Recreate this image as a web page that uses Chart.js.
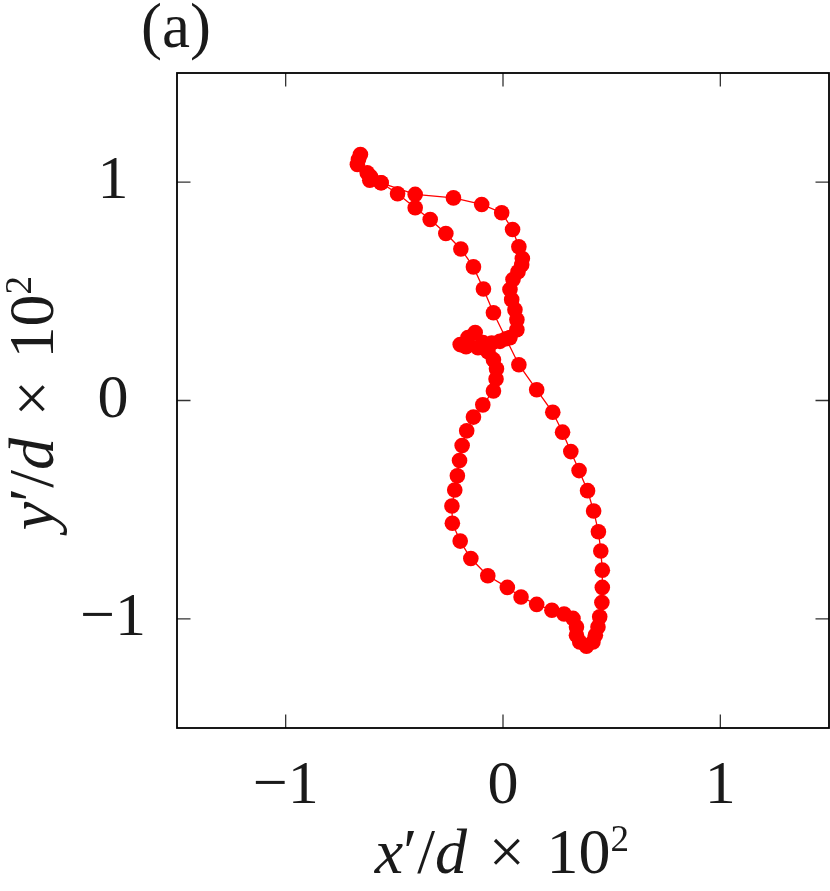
<!DOCTYPE html>
<html>
<head>
<meta charset="utf-8">
<script src="https://cdn.jsdelivr.net/npm/chart.js@4.4.1/dist/chart.umd.min.js"></script>
<style>
html, body { margin: 0; padding: 0; background: #fff; }
#wrap { width: 830px; height: 891px; }
</style>
</head>
<body>
<div id="wrap"><canvas id="grafico" width="830" height="891"></canvas></div>
<script>
// trajetória (x'/d, y'/d) x 10^2
const xVals = [-0.656, -0.670, -0.625, -0.613, -0.561, -0.404, -0.228, -0.098, -0.006, 0.044,
    0.073, 0.089, 0.086, 0.069, 0.046, 0.032, 0.040, 0.055, 0.064, 0.064,
    0.032, -0.014, -0.052, -0.092, -0.128, -0.161, -0.197, -0.170, -0.115, -0.069,
    -0.044, -0.030, -0.032, -0.044, -0.093, -0.136, -0.167, -0.188, -0.200, -0.210,
    -0.222, -0.235, -0.233, -0.197, -0.148, -0.070, 0.020, 0.083, 0.155, 0.225,
    0.281, 0.322, 0.338, 0.338, 0.353, 0.384, 0.414, 0.425, 0.437, 0.445,
    0.455, 0.457, 0.457, 0.450, 0.439, 0.417, 0.389, 0.350, 0.312, 0.274,
    0.229, 0.155, 0.073, 0.014, -0.044, -0.090, -0.136, -0.194, -0.263, -0.335,
    -0.404, -0.485, -0.561, -0.610, -0.665];
const yVals = [1.127, 1.081, 1.043, 1.009, 0.997, 0.944, 0.928, 0.898, 0.860, 0.783,
    0.704, 0.650, 0.622, 0.590, 0.554, 0.508, 0.462, 0.416, 0.370, 0.324,
    0.288, 0.271, 0.263, 0.265, 0.311, 0.288, 0.256, 0.246, 0.242, 0.223,
    0.187, 0.145, 0.098, 0.044, -0.020, -0.076, -0.139, -0.206, -0.275, -0.345,
    -0.410, -0.483, -0.562, -0.644, -0.724, -0.803, -0.856, -0.900, -0.934, -0.961,
    -0.978, -0.998, -1.037, -1.075, -1.106, -1.125, -1.106, -1.075, -1.037, -0.991,
    -0.925, -0.856, -0.777, -0.689, -0.601, -0.506, -0.413, -0.321, -0.234, -0.145,
    -0.054, 0.049, 0.164, 0.283, 0.402, 0.511, 0.612, 0.694, 0.765, 0.829,
    0.883, 0.947, 0.997, 1.026, 1.104];
const xTicks = [-1, 0, 1];
const yTicks = [-1, 0, 1];
const xRange = [-1.5, 1.5];
const yRange = [-1.5, 1.5];
const painelLabel = '(a)';

const FONTE = '"Liberation Serif", "DejaVu Serif", serif';
const TICK = 13.5;

function formatarTick(v) {
    return v < 0 ? '\u2212' + Math.abs(v) : String(v);
}

// desenha rótulo com partes em itálico / sobrescrito, centrado na origem
function desenharRotulo(ctx, partes, size) {
    const pedacos = partes.map(p => {
        const s = p.sup ? size * 0.58 : size;
        const font = (p.it ? 'italic ' : '') + s + 'px ' + FONTE;
        ctx.font = font;
        const pad = (p.pad || 0) * size;
        return { t: p.t, font, pad, w: ctx.measureText(p.t).width + 2 * pad, dy: p.sup ? -size * 0.34 : 0 };
    });
    const total = pedacos.reduce((s, p) => s + p.w, 0);
    let cx = -total / 2;
    pedacos.forEach(p => {
        ctx.font = p.font;
        ctx.fillText(p.t, cx + p.pad, p.dy);
        cx += p.w;
    });
}

function partesEixo(letra) {
    return [{ t: letra, it: true }, { t: '\u2032/' }, { t: 'd', it: true },
        { t: '\u00d7', pad: 0.34 }, { t: '10' }, { t: '2', sup: true }];
}

const molduraPlugin = {
    id: 'moldura',
    afterDraw(chart) {
        const { ctx, chartArea: a, scales: { x, y } } = chart;
        ctx.save();
        ctx.lineWidth = 1.3;
        ctx.strokeStyle = '#333';
        ctx.beginPath();
        xTicks.forEach(v => {
            const px = x.getPixelForValue(v);
            ctx.moveTo(px, a.bottom); ctx.lineTo(px, a.bottom - TICK);
            ctx.moveTo(px, a.top); ctx.lineTo(px, a.top + TICK);
        });
        yTicks.forEach(v => {
            const py = y.getPixelForValue(v);
            ctx.moveTo(a.left, py); ctx.lineTo(a.left + TICK, py);
            ctx.moveTo(a.right, py); ctx.lineTo(a.right - TICK, py);
        });
        ctx.stroke();
        ctx.lineWidth = 1.8;
        ctx.strokeStyle = '#000';
        ctx.strokeRect(a.left, a.top, a.right - a.left, a.bottom - a.top);

        ctx.fillStyle = '#1a1a1a';
        ctx.textBaseline = 'alphabetic';
        ctx.textAlign = 'left';
        // rótulo do eixo x
        ctx.save();
        ctx.translate(502, 873);
        desenharRotulo(ctx, partesEixo('x'), 64);
        ctx.restore();
        // rótulo do eixo y
        ctx.save();
        ctx.translate(53, 403);
        ctx.rotate(-Math.PI / 2);
        desenharRotulo(ctx, partesEixo('y'), 64);
        ctx.restore();
        // painel
        ctx.font = '63px ' + FONTE;
        ctx.fillText(painelLabel, 141, 47);
        ctx.restore();
    }
};

const pontos = xVals.map((v, i) => ({ x: v, y: yVals[i] }));

new Chart(document.getElementById('grafico').getContext('2d'), {
    type: 'scatter',
    data: {
        datasets: [{
            data: pontos,
            showLine: true,
            borderColor: '#ff0000',
            borderWidth: 1.3,
            backgroundColor: '#ff0000',
            pointRadius: 7.8,
            pointBorderWidth: 0,
            pointBackgroundColor: '#ff0000',
            tension: 0
        }]
    },
    options: {
        responsive: false,
        animation: false,
        devicePixelRatio: 1,
        layout: { autoPadding: false, padding: { top: 73, right: 1, left: 0, bottom: 0 } },
        plugins: { legend: { display: false }, tooltip: { enabled: false } },
        scales: {
            x: {
                type: 'linear', min: xRange[0], max: xRange[1],
                afterBuildTicks: s => { s.ticks = xTicks.map(v => ({ value: v })); },
                afterFit: s => { s.height = 163; s.paddingLeft = 0; s.paddingRight = 0; },
                grid: { display: false, drawTicks: false },
                border: { display: false },
                ticks: { font: { family: FONTE, size: 62 }, color: '#1a1a1a', padding: 22, maxRotation: 0, callback: formatarTick }
            },
            y: {
                type: 'linear', min: yRange[0], max: yRange[1],
                afterBuildTicks: s => { s.ticks = yTicks.map(v => ({ value: v })); },
                afterFit: s => { s.width = 177; s.paddingTop = 0; s.paddingBottom = 0; },
                grid: { display: false, drawTicks: false },
                border: { display: false },
                ticks: { font: { family: FONTE, size: 62 }, color: '#1a1a1a', padding: 31, crossAlign: 'center', callback: formatarTick }
            }
        }
    },
    plugins: [molduraPlugin]
});
</script>
</body>
</html>
